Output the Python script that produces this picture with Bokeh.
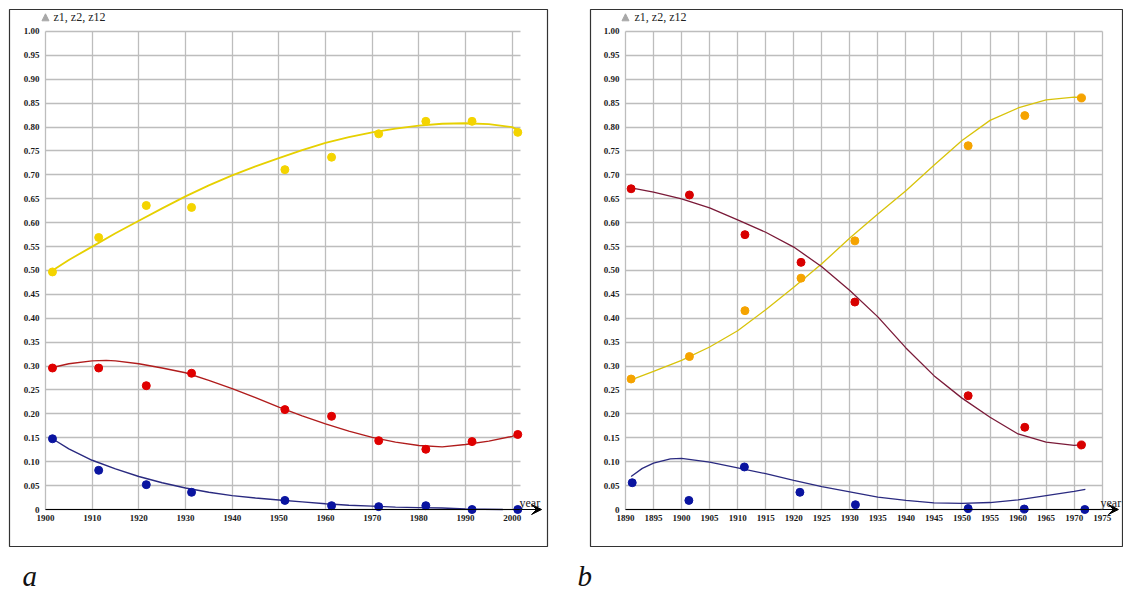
from bokeh.plotting import figure
from bokeh.layouts import row
from bokeh.models import FixedTicker, Arrow, VeeHead, NormalHead, Label, NumeralTickFormatter
from bokeh.embed import file_html
from bokeh.resources import INLINE

# ---------------- data ----------------
y_ticks = [0, 0.05, 0.10, 0.15, 0.20, 0.25, 0.30, 0.35, 0.40, 0.45, 0.50,
           0.55, 0.60, 0.65, 0.70, 0.75, 0.80, 0.85, 0.90, 0.95, 1.00]
y_tick_labels = ["0", "0.05", "0.10", "0.15", "0.20", "0.25", "0.30", "0.35", "0.40", "0.45", "0.50",
                 "0.55", "0.60", "0.65", "0.70", "0.75", "0.80", "0.85", "0.90", "0.95", "1.00"]
a_x_ticks = [1900, 1910, 1920, 1930, 1940, 1950, 1960, 1970, 1980, 1990, 2000]
b_x_ticks = [1890, 1895, 1900, 1905, 1910, 1915, 1920, 1925, 1930, 1935,
             1940, 1945, 1950, 1955, 1960, 1965, 1970, 1975]

# panel a: observed points
a_years = [1901.5, 1911.4, 1921.6, 1931.3, 1951.3, 1961.3, 1971.4, 1981.5, 1991.4, 2001.2]
a_z1 = [0.497, 0.569, 0.636, 0.632, 0.711, 0.737, 0.786, 0.812, 0.812, 0.789]
a_z2 = [0.296, 0.296, 0.259, 0.285, 0.209, 0.195, 0.144, 0.126, 0.142, 0.157]
a_z12 = [0.148, 0.082, 0.052, 0.036, 0.019, 0.008, 0.006, 0.008, 0.0, 0.0]

# panel a: fitted curves
a_z1_fit_years = [1901.5, 1905, 1910, 1915, 1920, 1925, 1930, 1935, 1940, 1945, 1950, 1955,
                  1960, 1965, 1970, 1975, 1980, 1985, 1990, 1995, 2000, 2002]
a_z1_fit = [0.500, 0.522, 0.550, 0.578, 0.604, 0.630, 0.655, 0.678, 0.699, 0.718, 0.735, 0.752,
            0.767, 0.779, 0.789, 0.797, 0.803, 0.807, 0.808, 0.806, 0.800, 0.790]
a_z2_fit_years = [1901.5, 1905, 1910, 1913, 1915, 1920, 1925, 1930, 1935, 1940, 1945, 1950, 1955,
                  1960, 1965, 1970, 1975, 1980, 1985, 1990, 1995, 2000, 2001.5]
a_z2_fit = [0.297, 0.305, 0.311, 0.312, 0.311, 0.305, 0.296, 0.286, 0.270, 0.253, 0.234, 0.214, 0.196,
            0.179, 0.164, 0.151, 0.141, 0.134, 0.131, 0.136, 0.143, 0.153, 0.158]
a_z12_fit_years = [1901.5, 1905, 1910, 1915, 1920, 1925, 1930, 1935, 1940, 1945, 1950, 1955,
                   1960, 1965, 1970, 1975, 1980, 1985, 1990, 1998]
a_z12_fit = [0.148, 0.127, 0.103, 0.085, 0.069, 0.056, 0.045, 0.036, 0.029, 0.024, 0.020, 0.016,
             0.012, 0.009, 0.007, 0.005, 0.004, 0.003, 0.001, 0.0]

# panel b: observed points
b_years = [1891.0, 1901.4, 1911.3, 1921.3, 1930.9, 1951.1, 1961.2, 1971.3]
b_z12_years = [1891.2, 1901.3, 1911.2, 1921.1, 1931.0, 1951.1, 1961.1, 1971.9]
b_z1 = [0.273, 0.320, 0.416, 0.484, 0.562, 0.761, 0.824, 0.861]
b_z2 = [0.671, 0.658, 0.575, 0.517, 0.434, 0.238, 0.172, 0.135]
b_z12 = [0.056, 0.019, 0.089, 0.036, 0.010, 0.002, 0.001, 0.0]

# panel b: fitted curves
b_z1_fit_years = [1891, 1895, 1900, 1905, 1910, 1915, 1920, 1925, 1930, 1935, 1940, 1945,
                  1950, 1955, 1960, 1965, 1970, 1971.5]
b_z1_fit = [0.271, 0.289, 0.312, 0.340, 0.374, 0.418, 0.465, 0.514, 0.568, 0.618, 0.667, 0.720,
            0.772, 0.814, 0.840, 0.857, 0.8625, 0.862]
b_z2_fit_years = [1891, 1895, 1900, 1905, 1910, 1915, 1920, 1925, 1930, 1935, 1940, 1945,
                  1950, 1955, 1960, 1965, 1970, 1971]
b_z2_fit = [0.673, 0.664, 0.650, 0.631, 0.606, 0.580, 0.549, 0.508, 0.458, 0.403, 0.338, 0.280,
            0.233, 0.193, 0.158, 0.141, 0.134, 0.135]
b_z12_fit_years = [1891, 1893, 1895, 1898, 1900, 1905, 1910, 1915, 1920, 1925, 1930, 1935,
                   1940, 1945, 1950, 1955, 1960, 1965, 1970, 1972]
b_z12_fit = [0.069, 0.086, 0.097, 0.106, 0.107, 0.099, 0.087, 0.075, 0.061, 0.048, 0.037, 0.026,
             0.019, 0.014, 0.013, 0.0146, 0.020, 0.029, 0.038, 0.042]

# ---------------- styling ----------------
FONT = "Liberation Serif"
GRID = "#bdbdbd"
H = 591
Y_RANGE = (-0.0774, 1.046)


def make_panel(width, x_range, x_ticks, grid_x_end, min_left, min_right,
               y_standoff, letter, letter_offset, year_x, title_x, arrow_end):
    p = figure(width=width, height=H, x_range=x_range, y_range=Y_RANGE,
               output_backend="svg", toolbar_location=None,
               title=letter, title_location="below",
               min_border_left=min_left, min_border_right=min_right,
               min_border_top=9, min_border_bottom=45)
    p.outline_line_color = "#333333"
    p.outline_line_width = 1.2
    p.background_fill_color = "white"
    p.border_fill_color = "white"

    # panel letter (a / b) under the frame
    p.title.align = "left"
    p.title.offset = letter_offset
    p.title.standoff = 0
    p.title.text_font = FONT
    p.title.text_font_style = "italic"
    p.title.text_font_size = "29px"
    p.title.text_color = "#111111"

    # grids
    p.xgrid.ticker = FixedTicker(ticks=x_ticks)
    p.ygrid.ticker = FixedTicker(ticks=y_ticks)
    p.xgrid.cross_bounds = (0, 1.0)
    p.ygrid.cross_bounds = (x_ticks[0], grid_x_end)
    for g in (p.xgrid, p.ygrid):
        g.grid_line_color = GRID
        g.grid_line_width = 1.3

    # axes (labels pulled inside the frame box)
    p.xaxis.ticker = FixedTicker(ticks=x_ticks)
    p.yaxis.ticker = FixedTicker(ticks=y_ticks)
    p.yaxis.formatter = NumeralTickFormatter(format="0.00")
    p.yaxis.major_label_overrides = {t: s for t, s in zip(y_ticks, y_tick_labels)}
    for ax in (p.xaxis, p.yaxis):
        ax.axis_line_color = None
        ax.major_tick_line_color = None
        ax.minor_tick_line_color = None
        ax.major_tick_out = 0
        ax.major_tick_in = 0
        ax.major_label_text_font = FONT
        ax.major_label_text_font_size = "9px"
        ax.major_label_text_font_style = "bold"
        ax.major_label_text_color = "#1a1a1a"
    p.xaxis.major_label_standoff = -32
    p.yaxis.major_label_standoff = y_standoff
    # blank spacer label that pushes the panel letter further down
    p.xaxis.axis_label = " "
    p.xaxis.axis_label_text_font_size = "12px"
    p.xaxis.axis_label_standoff = 17

    # x axis arrow
    p.add_layout(Arrow(x_start=x_ticks[0], y_start=0, x_end=arrow_end, y_end=0,
                       line_color="black", line_width=1.2,
                       end=VeeHead(size=10, fill_color="black", line_color="black")))
    # y axis arrow head
    p.add_layout(Arrow(x_start=x_ticks[0], y_start=1.0, x_end=x_ticks[0], y_end=1.037,
                       line_alpha=0,
                       end=NormalHead(size=7, fill_color="#a8a8a8", line_color="#a8a8a8")))

    p.add_layout(Label(x=title_x, y=16, x_units="canvas", y_units="canvas", text="z1, z2, z12",
                       text_font=FONT, text_font_size="12px", text_baseline="middle",
                       text_color="#222222"))
    p.add_layout(Label(x=year_x, y=502, x_units="canvas", y_units="canvas", text="year",
                       text_font=FONT, text_font_size="12px", text_baseline="alphabetic",
                       text_color="#222222"))
    return p


pa = make_panel(570, (1892.29, 2007.57), a_x_ticks, 2001.7, 9, 23,
                -30, "a", 13, 519, 53, 2006.3)
pb = make_panel(553, (1883.76, 1978.80), b_x_ticks, 1975, 20, 0,
                -29, "b", -13, 530, 64, 1977.9)

# panel a series
pa.line(a_z1_fit_years, a_z1_fit, line_color="#e6d000", line_width=1.8)
pa.line(a_z2_fit_years, a_z2_fit, line_color="#b01c1c", line_width=1.4)
pa.line(a_z12_fit_years, a_z12_fit, line_color="#2a2a80", line_width=1.4)
pa.scatter(a_years, a_z1, size=8, color="#f4d400")
pa.scatter(a_years, a_z2, size=8, color="#e00000")
pa.scatter(a_years, a_z12, size=8, color="#0a14a0")

# panel b series
pb.line(b_z1_fit_years, b_z1_fit, line_color="#d8c30a", line_width=1.3)
pb.line(b_z2_fit_years, b_z2_fit, line_color="#7a1a38", line_width=1.3)
pb.line(b_z12_fit_years, b_z12_fit, line_color="#2a2a80", line_width=1.3)
pb.scatter(b_years, b_z1, size=8, color="#f5a300")
pb.scatter(b_years, b_z2, size=8, color="#d80000")
pb.scatter(b_z12_years, b_z12, size=8, color="#0a14a0")

layout = row(pa, pb)
open("out.html", "w").write(file_html(layout, INLINE))
